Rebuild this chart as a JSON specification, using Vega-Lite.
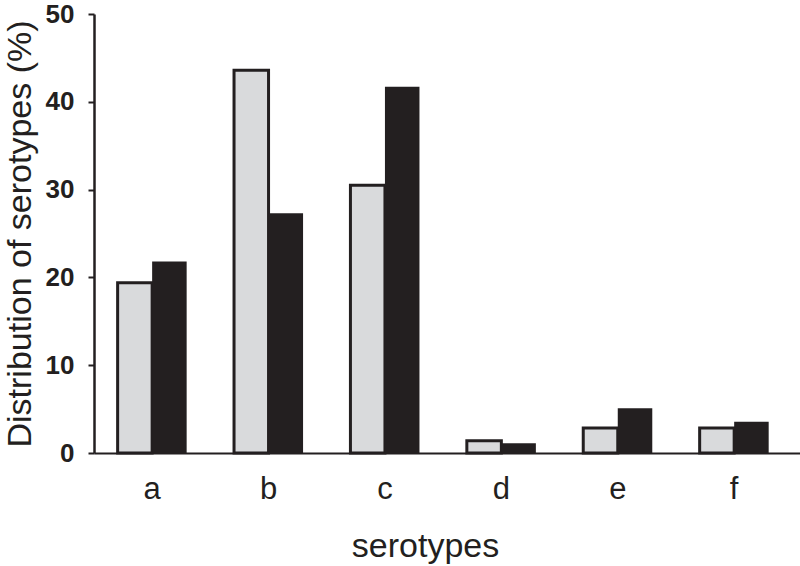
{
  "$schema": "https://vega.github.io/schema/vega-lite/v6.json",
  "autosize": "none",
  "padding": {"left": 94, "top": 14, "right": 0, "bottom": 113},
  "width": 706,
  "height": 439,
  "background": "white",
  "config": {"view": {"stroke": null}, "font": "Liberation Sans"},
  "data": {"values": [
    {"serotype": "a", "group": "group 1", "pct": 19.4},
    {"serotype": "a", "group": "group 2", "pct": 21.8},
    {"serotype": "b", "group": "group 1", "pct": 43.6},
    {"serotype": "b", "group": "group 2", "pct": 27.3},
    {"serotype": "c", "group": "group 1", "pct": 30.5},
    {"serotype": "c", "group": "group 2", "pct": 41.7},
    {"serotype": "d", "group": "group 1", "pct": 1.4},
    {"serotype": "d", "group": "group 2", "pct": 1.1},
    {"serotype": "e", "group": "group 1", "pct": 2.85},
    {"serotype": "e", "group": "group 2", "pct": 5.1},
    {"serotype": "f", "group": "group 1", "pct": 2.85},
    {"serotype": "f", "group": "group 2", "pct": 3.55}
  ]},
  "mark": {"type": "bar", "stroke": "#231f20"},
  "encoding": {
    "x": {
      "field": "serotype", "type": "nominal",
      "scale": {"paddingInner": 0.407, "paddingOuter": 0.236, "align": 0.43},
      "axis": {
        "title": "serotypes", "labelAngle": 0, "ticks": false,
        "domainColor": "#231f20", "domainWidth": 2,
        "labelFontSize": 31, "labelColor": "#231f20", "labelPadding": 21,
        "titleFontSize": 34, "titleFontWeight": "normal", "titleColor": "#231f20", "titlePadding": 25,
        "titleX": 331, "titleAlign": "center"
      }
    },
    "xOffset": {"field": "group", "type": "nominal", "scale": {"paddingInner": 0, "paddingOuter": 0}},
    "y": {
      "field": "pct", "type": "quantitative",
      "scale": {"domain": [0, 50], "nice": false},
      "axis": {
        "title": "Distribution of serotypes (%)", "values": [0, 10, 20, 30, 40, 50], "grid": false,
        "domainColor": "#231f20", "domainWidth": 2.5,
        "tickColor": "#231f20", "tickWidth": 2, "tickSize": 6,
        "labelFontSize": 26, "labelFontWeight": "bold", "labelColor": "#231f20", "labelPadding": 14,
        "titleFontSize": 34, "titleFontWeight": "normal", "titleColor": "#231f20", "titlePadding": 8
      }
    },
    "color": {"field": "group", "type": "nominal", "scale": {"range": ["#d9dadc", "#231f20"]}, "legend": null},
    "strokeWidth": {"field": "group", "type": "nominal", "scale": {"range": [3, 0]}, "legend": null}
  }
}
